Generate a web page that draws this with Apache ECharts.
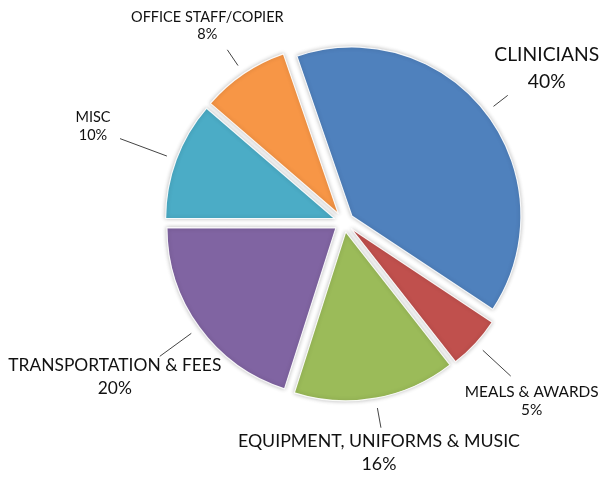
<!DOCTYPE html>
<html><head><meta charset="utf-8">
<script src="https://cdn.jsdelivr.net/npm/echarts@6/dist/echarts.min.js"></script>
<style>html,body{margin:0;padding:0;background:#fff}#c{width:602px;height:477px}</style>
</head><body><div id="c"></div>
<script>
const categories = ['CLINICIANS', 'MEALS & AWARDS', 'EQUIPMENT, UNIFORMS & MUSIC', 'TRANSPORTATION & FEES', 'MISC', 'OFFICE STAFF/COPIER'];
const values = [39.6, 5.1, 15.5, 20.1, 11.3, 8.4];
const percentLabels = ['40%', '5%', '16%', '20%', '10%', '8%'];
const colors = ['#4F81BD', '#C0504D', '#9BBB59', '#8064A2', '#4BACC6', '#F79646'];

// label styling / layout (not data)
const labelFont = [19.3, 15.4, 17.8, 17.4, 14.5, 14.5];
const labelLineHeight = [27, 18, 23, 23, 18, 17];
const leaderLen = [18, 38, 20, 39, 50, 19];
const labelShift = [[39, -27], [21, 25], [-2, 25], [-45, 21], [-27, -12], [-20, -24]];
const leaderGap = 20;

const CENTER = [344, 222];
const RADIUS = 169;
const START = 109;

const chart = echarts.init(document.getElementById('c'), null, {renderer: 'canvas'});

const sliceData = categories.map((name, i) => ({
  name, value: values[i], selected: true,
  itemStyle: {color: colors[i]}
}));
const labelData = categories.map((name, i) => ({
  name, value: values[i],
  label: {fontSize: labelFont[i], lineHeight: labelLineHeight[i]}
}));

chart.setOption({
  backgroundColor: '#fff',
  animation: false,
  series: [
    {
      type: 'pie',
      center: CENTER,
      radius: RADIUS,
      startAngle: START,
      clockwise: true,
      selectedMode: 'multiple',
      selectedOffset: 10,
      silent: true,
      avoidLabelOverlap: false,
      label: {show: false},
      labelLine: {show: false},
      emphasis: {disabled: true},
      itemStyle: {
        borderColor: 'rgba(255,255,255,0.9)', borderWidth: 1.2,
        shadowBlur: 4, shadowColor: 'rgba(0,0,0,0.25)'
      },
      select: {itemStyle: {
        borderColor: 'rgba(255,255,255,0.9)', borderWidth: 1.2,
        shadowBlur: 4, shadowColor: 'rgba(0,0,0,0.25)'
      }},
      data: sliceData
    },
    {
      type: 'pie',
      center: CENTER,
      radius: RADIUS,
      startAngle: START,
      clockwise: true,
      silent: true,
      avoidLabelOverlap: false,
      itemStyle: {color: 'rgba(0,0,0,0)', borderWidth: 0},
      emphasis: {disabled: true},
      label: {
        show: true, position: 'outside',
        fontFamily: 'Lato', color: '#111',
        formatter: p => p.name + '\n' + percentLabels[p.dataIndex]
      },
      labelLine: {show: true, length: 10, length2: 0, lineStyle: {color: '#444', width: 1}},
      labelLayout: function (params) {
        const pts = params.labelLinePoints;
        const i = params.dataIndex;
        if (!pts) return {};
        const p0 = pts[0], p1 = pts[1];
        let dx = p1[0] - p0[0], dy = p1[1] - p0[1];
        const l = Math.sqrt(dx * dx + dy * dy) || 1;
        dx /= l; dy /= l;
        const s = [p0[0] + dx * leaderGap, p0[1] + dy * leaderGap];
        const e = [s[0] + dx * leaderLen[i], s[1] + dy * leaderLen[i]];
        return {
          x: e[0] + labelShift[i][0],
          y: e[1] + labelShift[i][1],
          align: 'center',
          verticalAlign: 'middle',
          labelLinePoints: [s, e, e]
        };
      },
      data: labelData
    }
  ]
});
</script>
</body></html>
